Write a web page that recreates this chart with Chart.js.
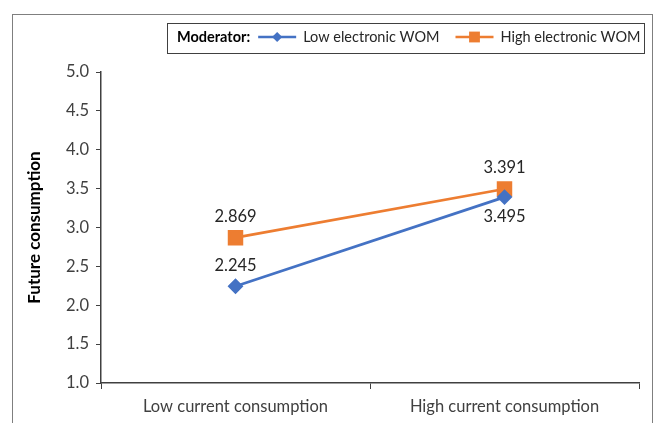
<!DOCTYPE html>
<html>
<head>
<meta charset="utf-8">
<script src="https://cdn.jsdelivr.net/npm/chart.js@4"></script>
<style>
  body { margin: 0; background: #fff; }
  #wrap { width: 657px; height: 423px; position: relative; }
</style>
</head>
<body>
<div id="wrap"><canvas id="myChart" width="657" height="423"></canvas></div>
<script>
// chart data
const categories = ['Low current consumption', 'High current consumption'];
const lowWom = [2.245, 3.391];
const highWom = [2.869, 3.495];
// value labels as printed in the figure
const lowWomLabels = ['2.245', '3.495'];
const highWomLabels = ['2.869', '3.391'];
const yTicks = ['1.0', '1.5', '2.0', '2.5', '3.0', '3.5', '4.0', '4.5', '5.0'];

const FONT = 'Lato, "Open Sans", sans-serif';
const BLUE = '#4472C4';
const ORANGE = '#ED7D31';

// outer frame + moderator legend box
const framePlugin = {
  id: 'frame',
  afterDraw(chart) {
    const ctx = chart.ctx;
    ctx.save();
    ctx.strokeStyle = '#7f7f7f';
    ctx.lineWidth = 1;
    ctx.strokeRect(12.5, 14.5, 640, 420);

    // legend
    const y = 37;
    ctx.font = 'bold 14.5px ' + FONT;
    ctx.textBaseline = 'middle';
    ctx.textAlign = 'left';
    ctx.fillStyle = '#000';
    let x = 177;
    ctx.fillText('Moderator:', x, y);
    x += ctx.measureText('Moderator:').width + 8;
    ctx.font = '14.5px ' + FONT;
    chart.data.datasets.forEach((ds) => {
      ctx.strokeStyle = ds.borderColor;
      ctx.lineWidth = 2.5;
      ctx.beginPath();
      ctx.moveTo(x, y);
      ctx.lineTo(x + 38, y);
      ctx.stroke();
      ctx.fillStyle = ds.pointBackgroundColor;
      ctx.beginPath();
      const r = ds.pointRadius * 0.85;
      if (ds.pointStyle === 'rect') {
        const s = r * Math.SQRT1_2;
        ctx.rect(x + 19 - s, y - s, 2 * s, 2 * s);
      } else {
        ctx.moveTo(x + 19, y - r);
        ctx.lineTo(x + 19 + r, y);
        ctx.lineTo(x + 19, y + r);
        ctx.lineTo(x + 19 - r, y);
        ctx.closePath();
      }
      ctx.fill();
      x += 45;
      ctx.fillStyle = '#262626';
      ctx.fillText(ds.label, x, y);
      x += ctx.measureText(ds.label).width + 16;
    });
    ctx.strokeStyle = '#404040';
    ctx.lineWidth = 1;
    ctx.strokeRect(167.5, 23.5, 477, 30);
    ctx.restore();
  }
};

// point value labels
const valueLabels = {
  id: 'valueLabels',
  afterDatasetsDraw(chart) {
    const ctx = chart.ctx;
    ctx.save();
    ctx.font = '16.5px ' + FONT;
    ctx.fillStyle = '#262626';
    ctx.textAlign = 'center';
    ctx.textBaseline = 'middle';
    chart.data.datasets.forEach((ds, i) => {
      const meta = chart.getDatasetMeta(i);
      meta.data.forEach((pt, j) => {
        const below = ds.labelSide[j] === 'below';
        ctx.fillText(ds.valueText[j], pt.x, pt.y + (below ? 20 : -21));
      });
    });
    ctx.restore();
  }
};

const config = {
  type: 'line',
  data: {
    labels: categories,
    datasets: [{
      label: 'Low electronic WOM',
      data: lowWom,
      valueText: lowWomLabels,
      labelSide: ['above', 'below'],
      borderColor: BLUE,
      backgroundColor: BLUE,
      pointBackgroundColor: BLUE,
      pointBorderColor: BLUE,
      pointStyle: 'rectRot',
      pointRadius: 6,
      borderWidth: 2.75
    }, {
      label: 'High electronic WOM',
      data: highWom,
      valueText: highWomLabels,
      labelSide: ['above', 'above'],
      borderColor: ORANGE,
      backgroundColor: ORANGE,
      pointBackgroundColor: ORANGE,
      pointBorderColor: ORANGE,
      pointStyle: 'rect',
      pointRadius: 9,
      borderWidth: 2.75
    }]
  },
  options: {
    responsive: false,
    animation: false,
    layout: { padding: { left: 24, right: 18, top: 72, bottom: 0 } },
    plugins: {
      legend: { display: false },
      tooltip: { enabled: false }
    },
    scales: {
      x: {
        offset: true,
        grid: { display: true, drawOnChartArea: false, drawTicks: true, tickLength: 6, color: '#404040', offset: true },
        border: { color: '#404040', width: 1.5 },
        ticks: { color: '#404040', font: { family: FONT, size: 16.5 }, padding: 8, maxRotation: 0 },
        afterFit: (scale) => { scale.height = 40; }
      },
      y: {
        min: 1,
        max: 5,
        grid: { display: true, drawOnChartArea: false, drawTicks: true, tickLength: 5, color: '#404040' },
        border: { color: '#404040', width: 1.5 },
        ticks: {
          stepSize: 0.5,
          color: '#404040',
          padding: 7,
          font: { family: FONT, size: 16.5 },
          callback: (v) => yTicks[Math.round((v - 1) * 2)]
        },
        title: {
          display: true,
          text: 'Future consumption',
          color: '#000',
          font: { family: FONT, size: 17, weight: 'bold' },
          padding: { top: 0, bottom: 0 }
        },
        afterFit: (scale) => { scale.width = 77; }
      }
    }
  },
  plugins: [framePlugin, valueLabels]
};

document.addEventListener('DOMContentLoaded', () => {
  const chartTarget = document.querySelector('#myChart');
  new Chart(chartTarget, config);
});
</script>
</body>
</html>
